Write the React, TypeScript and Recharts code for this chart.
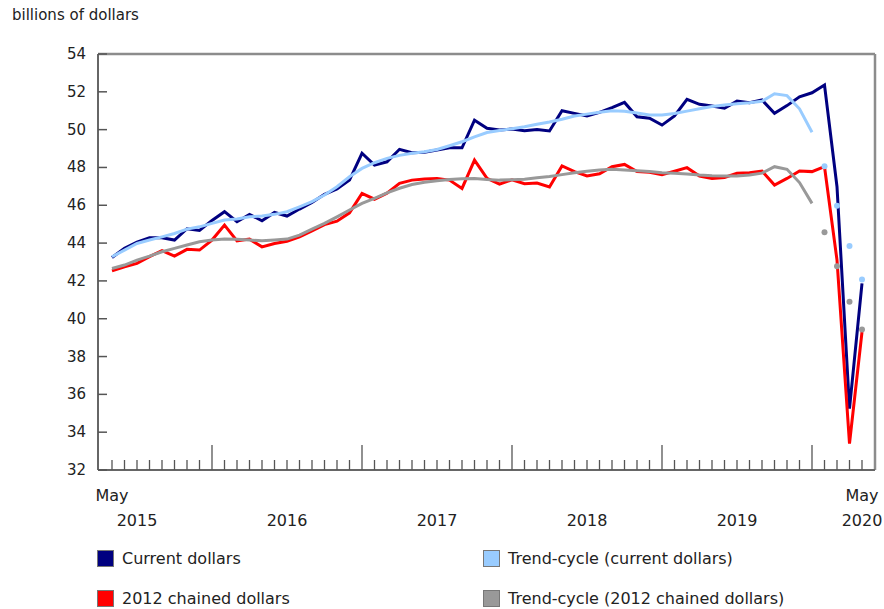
import React from 'react';
import {
  LineChart,
  Line,
  XAxis,
  YAxis,
  ReferenceLine,
} from 'recharts';

// Monthly, May 2015 to May 2020 (61 months)
const START_YEAR = 2015;
const START_MONTH = 4; // May (0-based)

const CURRENT = [
  43.24, 43.72, 44.05, 44.28, 44.28, 44.16, 44.76, 44.67, 45.2, 45.66,
  45.13, 45.52, 45.18, 45.62, 45.43, 45.8, 46.15, 46.58, 46.86, 47.33,
  48.75, 48.13, 48.3, 48.96, 48.78, 48.8, 48.92, 49.04, 49.04, 50.5,
  50.07, 49.98, 50.03, 49.94, 50.01, 49.93, 51.0, 50.86, 50.72, 50.91,
  51.16, 51.44, 50.68, 50.6, 50.24, 50.72, 51.6, 51.34, 51.25, 51.13,
  51.51, 51.42, 51.57, 50.86, 51.27, 51.74, 51.95, 52.36, 46.98, 35.25,
  41.87,
];

const CHAINED = [
  42.53, 42.75, 42.93, 43.28, 43.6, 43.31, 43.67, 43.63, 44.16, 44.95,
  44.12, 44.21, 43.8, 43.98, 44.1, 44.33, 44.65, 44.98, 45.16, 45.6,
  46.63, 46.32, 46.64, 47.16, 47.33, 47.39, 47.42, 47.33, 46.89, 48.39,
  47.42, 47.12, 47.35, 47.14, 47.18, 46.97, 48.08, 47.78, 47.55, 47.67,
  48.04, 48.16, 47.78, 47.75, 47.62, 47.8, 47.99, 47.55, 47.42, 47.47,
  47.69, 47.72, 47.81, 47.07, 47.42, 47.81, 47.78, 48.04, 43.1, 33.4,
  39.3,
];

// trend-cycle lines run to January 2020
const TREND_CURRENT = [
  43.28, 43.63, 43.98, 44.16, 44.33, 44.51, 44.74, 44.86, 45.04, 45.22,
  45.27, 45.39, 45.43, 45.52, 45.66, 45.92, 46.19, 46.54, 46.98, 47.51,
  47.95, 48.25, 48.48, 48.64, 48.75, 48.83, 48.95, 49.15, 49.36, 49.62,
  49.85, 49.95, 50.05, 50.15, 50.28, 50.4, 50.55, 50.72, 50.82, 50.92,
  51.0, 50.97, 50.88, 50.78, 50.77, 50.85, 50.98, 51.1, 51.22, 51.3,
  51.37, 51.42, 51.5, 51.9, 51.8, 51.1, 49.86,
];

const TREND_CHAINED = [
  42.66, 42.84, 43.1, 43.31, 43.54, 43.72, 43.9, 44.07, 44.16, 44.21,
  44.2, 44.16, 44.12, 44.16, 44.21, 44.42, 44.74, 45.04, 45.39, 45.75,
  46.1, 46.37, 46.66, 46.9, 47.1, 47.22, 47.3, 47.36, 47.4, 47.42,
  47.36, 47.33, 47.35, 47.38, 47.45, 47.52, 47.62, 47.72, 47.8, 47.86,
  47.9, 47.87, 47.83, 47.78, 47.72, 47.69, 47.66, 47.6, 47.56, 47.55,
  47.55, 47.6, 47.7, 48.04, 47.9, 47.2, 46.1,
];

// trend-cycle, February to May 2020, shown as points only
const TREND_CURRENT_POINTS = [48.07, 45.98, 43.84, 42.08];
const TREND_CHAINED_POINTS = [44.57, 42.78, 40.9, 39.43];

const Y_TICKS = [32, 34, 36, 38, 40, 42, 44, 46, 48, 50, 52, 54];

const LEGEND = [
  { name: 'Current dollars', color: '#000080' },
  { name: 'Trend-cycle (current dollars)', color: '#99ccff' },
  { name: '2012 chained dollars', color: '#ff0000' },
  { name: 'Trend-cycle (2012 chained dollars)', color: '#999999' },
];

const FONT = '"DejaVu Sans", Verdana, sans-serif';
const TEXT = '#222';

const W = 884;
const H = 609;
const MARGIN = { top: 54, right: 9, left: 38, bottom: 79 };
const Y_AXIS_W = 60;
const X_AXIS_H = 60;

const N = CURRENT.length;
const pointsStart = TREND_CURRENT.length;
// the month axis leaves about one month of room past each end
const X_DOMAIN = [-1.12, N - 1 + 1.04];
const Y_DOMAIN = [32, 54];

const data = CURRENT.map((v, i) => {
  const m = (START_MONTH + i) % 12;
  const year = START_YEAR + Math.floor((START_MONTH + i) / 12);
  return {
    i,
    month: m,
    year,
    current: v,
    chained: CHAINED[i],
    trendCurrent: i < pointsStart ? TREND_CURRENT[i] : null,
    trendChained: i < pointsStart ? TREND_CHAINED[i] : null,
    trendCurrentPt: i >= pointsStart ? TREND_CURRENT_POINTS[i - pointsStart] : null,
    trendChainedPt: i >= pointsStart ? TREND_CHAINED_POINTS[i - pointsStart] : null,
  };
});

const XTick = ({ x, y, payload }: any) => {
  const d = data[payload.value];
  if (!d) return null;
  const isJan = d.month === 0;
  const isEnd = d.i === 0 || d.i === N - 1;
  const showYear = d.i === N - 1 || d.month === 6;
  return (
    <g>
      <line x1={x} x2={x} y1={y - (isJan ? 25 : 10)} y2={y} stroke="#555" strokeWidth={1.3} />
      {isEnd && (
        <text x={x} y={y + 31} textAnchor="middle" fontSize={16} fill={TEXT} fontFamily={FONT}>
          May
        </text>
      )}
      {showYear && (
        <text x={x} y={y + 56} textAnchor="middle" fontSize={16} fill={TEXT} fontFamily={FONT}>
          {d.year}
        </text>
      )}
    </g>
  );
};

const YTick = ({ x, y, payload }: any) => (
  <g>
    <line x1={x + 10} x2={x + 19} y1={y} y2={y} stroke="#555" strokeWidth={1.5} />
    <text x={x - 2} y={y + 5} textAnchor="end" fontSize={15} fill={TEXT} fontFamily={FONT}>
      {payload.value}
    </text>
  </g>
);

export default function App() {
  const xTicks = data.map((d) => d.i);
  return (
    <div style={{ position: 'absolute', left: 0, top: 0, width: W, height: H, background: '#fff', fontFamily: FONT }}>
      <div style={{ position: 'absolute', left: 12, top: 6, fontSize: 15, color: TEXT }}>
        billions of dollars
      </div>
      <LineChart width={W} height={H} data={data} margin={MARGIN}>
        <XAxis
          dataKey="i"
          type="number"
          domain={X_DOMAIN}
          allowDataOverflow
          ticks={xTicks}
          interval={0}
          tickLine={false}
          tickSize={0}
          tickMargin={0}
          height={X_AXIS_H}
          axisLine={{ stroke: '#666', strokeWidth: 2 }}
          tick={<XTick />}
        />
        <YAxis
          domain={Y_DOMAIN}
          ticks={Y_TICKS}
          interval={0}
          width={Y_AXIS_W}
          tickLine={false}
          tickSize={0}
          tickMargin={10}
          axisLine={{ stroke: '#666', strokeWidth: 2 }}
          tick={<YTick />}
        />
        {/* top and right edges of the frame */}
        <ReferenceLine
          segment={[{ x: X_DOMAIN[0], y: Y_DOMAIN[1] }, { x: X_DOMAIN[1], y: Y_DOMAIN[1] }]}
          stroke="#8c8c8c"
          strokeWidth={2.5}
          ifOverflow="visible"
        />
        <ReferenceLine
          segment={[{ x: X_DOMAIN[1], y: Y_DOMAIN[0] }, { x: X_DOMAIN[1], y: Y_DOMAIN[1] }]}
          stroke="#8c8c8c"
          strokeWidth={2.5}
          ifOverflow="visible"
        />
        <Line dataKey="current" stroke="#000080" strokeWidth={3} dot={false} isAnimationActive={false} />
        <Line dataKey="chained" stroke="#ff0000" strokeWidth={3} dot={false} isAnimationActive={false} />
        <Line dataKey="trendCurrent" stroke="#99ccff" strokeWidth={3} dot={false} isAnimationActive={false} />
        <Line dataKey="trendChained" stroke="#999999" strokeWidth={3} dot={false} isAnimationActive={false} />
        <Line
          dataKey="trendCurrentPt"
          stroke="none"
          dot={{ r: 3, fill: '#99ccff', stroke: 'none' }}
          isAnimationActive={false}
        />
        <Line
          dataKey="trendChainedPt"
          stroke="none"
          dot={{ r: 3, fill: '#999999', stroke: 'none' }}
          isAnimationActive={false}
        />
      </LineChart>
      {LEGEND.map((item, k) => {
        const col = k % 2;
        const row = Math.floor(k / 2);
        return (
          <div
            key={item.name}
            style={{
              position: 'absolute',
              left: col === 0 ? 97 : 483,
              top: 549 + row * 40,
              display: 'flex',
              alignItems: 'center',
              fontSize: 16,
              color: TEXT,
              whiteSpace: 'nowrap',
            }}
          >
            <span
              style={{
                display: 'inline-block',
                width: 15,
                height: 15,
                background: item.color,
                border: '1px solid #777',
                marginRight: 8,
              }}
            />
            {item.name}
          </div>
        );
      })}
    </div>
  );
}
